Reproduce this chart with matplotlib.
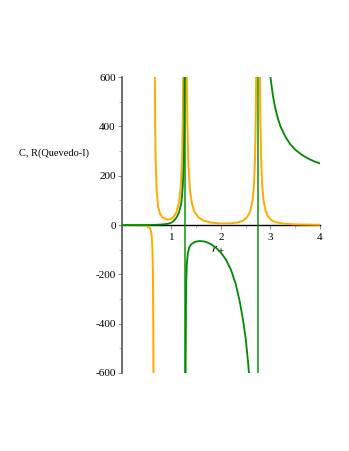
import matplotlib
matplotlib.use("Agg")
import matplotlib.pyplot as plt
from matplotlib.ticker import MultipleLocator

plt.rcParams['font.family'] = 'Liberation Serif'
plt.rcParams['mathtext.fontset'] = 'stix'

# C (orange)
c1_x = [0.0, 0.2, 0.4, 0.5, 0.55, 0.58, 0.60, 0.615, 0.625, 0.632, 0.637]
c1_y = [0, 0, -1, -3, -8, -20, -45, -100, -200, -400, -650]
c2_x = [0.663, 0.67, 0.68, 0.70, 0.73, 0.77, 0.82, 0.88, 0.93, 0.98, 1.04, 1.10, 1.15, 1.19, 1.215, 1.23, 1.24]
c2_y = [650, 420, 260, 140, 75, 45, 30, 24, 22, 24, 32, 52, 90, 160, 280, 450, 700]
c3_x = [1.30, 1.31, 1.32, 1.34, 1.37, 1.41, 1.46, 1.55, 1.65, 1.80, 2.0, 2.2, 2.35, 2.45, 2.53, 2.59, 2.64, 2.67, 2.69, 2.705, 2.715]
c3_y = [800, 600, 420, 250, 150, 90, 55, 30, 18, 10, 6, 7, 11, 18, 32, 55, 100, 170, 280, 450, 700]
c4_x = [2.785, 2.795, 2.81, 2.83, 2.86, 2.90, 2.95, 3.02, 3.10, 3.25, 3.45, 3.70, 4.0]
c4_y = [700, 450, 280, 170, 100, 60, 35, 20, 12, 6, 3, 2, 1]

# R (green)
r1_x = [0.0, 0.4, 0.7, 0.85, 0.95, 1.0, 1.05, 1.10, 1.15, 1.20, 1.23, 1.25, 1.26, 1.268]
r1_y = [0, 0, 1, 3, 6, 10, 18, 30, 50, 90, 160, 260, 420, 700]
r2_x = [1.283, 1.288, 1.293, 1.30, 1.31, 1.33, 1.36, 1.40, 1.46, 1.52, 1.58, 1.65, 1.72, 1.80, 1.90,
        2.0, 2.1, 2.2, 2.3, 2.38, 2.45, 2.50, 2.55, 2.58]
r2_y = [-700, -500, -330, -220, -160, -115, -90, -78, -70, -66, -65, -66, -70, -78, -92,
        -112, -140, -180, -240, -310, -390, -460, -560, -640]
r3_x = [2.97, 3.0, 3.05, 3.10, 3.15, 3.20, 3.30, 3.40, 3.50, 3.60, 3.70, 3.80, 3.90, 4.0]
r3_y = [660, 600, 525, 472, 433, 402, 359, 328, 306, 290, 277, 266, 257, 250]
r_asym = [1.275, 2.755]

orange = '#FFAA00'
green = '#008A00'

fig = plt.figure(figsize=(3.49, 4.51), dpi=100)
ax = fig.add_axes([0.3496, 0.173, 0.567, 0.656])

for xs, ys in [(c1_x, c1_y), (c2_x, c2_y), (c3_x, c3_y), (c4_x, c4_y)]:
    ax.plot(xs, ys, color=orange, lw=1.4, zorder=3)
for xs, ys in [(r1_x, r1_y), (r2_x, r2_y), (r3_x, r3_y)]:
    ax.plot(xs, ys, color=green, lw=1.3, zorder=4)
for xa in r_asym:
    ax.axvline(xa, color=green, lw=1.3, alpha=0.8, zorder=4)

ax.set_xlim(0, 4)
ax.set_ylim(-600, 600)

for s in ['top', 'right']:
    ax.spines[s].set_visible(False)
ax.spines['left'].set_color('#555555')
ax.spines['left'].set_linewidth(1.2)
ax.spines['bottom'].set_position(('data', 0))
ax.spines['bottom'].set_color('black')
ax.spines['bottom'].set_linewidth(1.0)
ax.spines['bottom'].set_zorder(2)

ax.set_xticks([1, 2, 3, 4])
ax.xaxis.set_minor_locator(MultipleLocator(0.5))
ax.set_yticks([-600, -400, -200, 0, 200, 400, 600])
ax.set_yticklabels(['-600', '-400', '-200', '0', '200', '400', '600'])
ax.yaxis.set_minor_locator(MultipleLocator(100))
ax.tick_params(axis='both', which='major', labelsize=8, length=3, width=0.6, color='#777777', pad=1.5)
ax.tick_params(axis='x', which='major', pad=3)
ax.tick_params(axis='both', which='minor', length=2, width=0.5, color='#999999')

ax.text(-0.67, 292, 'C, R(Quevedo-I)', fontsize=7.5, ha='right', va='center')
ax.text(1.93, -101, r'$r_+$', fontsize=9, ha='center', va='center')

fig.savefig('out.png', dpi=100)
